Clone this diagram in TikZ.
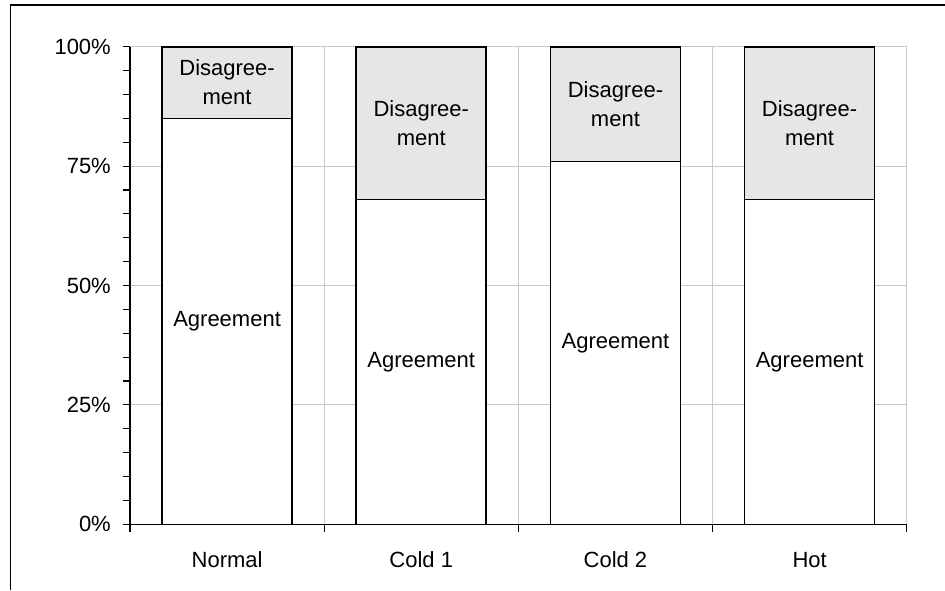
\documentclass[tikz,border=0pt]{standalone}
\usepackage{fontspec}
\setmainfont{Liberation Sans}
\definecolor{gridc}{HTML}{C8C8C8}
\definecolor{disfill}{HTML}{E6E6E6}
\begin{document}
\begin{tikzpicture}[x=1pt,y=-1pt,
  lbl/.style={font=\fontsize{22}{29}\selectfont, align=center, inner sep=0pt},
  barseg/.style={draw=black, line width=1.6pt},
  gridl/.style={draw=gridc, line width=1pt},
  axisl/.style={draw=black, line width=1.1pt}]
\useasboundingbox (0,0) rectangle (945,590);
\fill[white] (0,0) rectangle (945,590);
% outer frame
\draw[line width=1.1pt] (10.5,590) -- (10.5,5) -- (945,5);
% geometry
\def\yz{524.3}
\def\yu{4.776}
\def\yt{46.7}
% gridlines
\foreach \p in {25,50,75,100}
  \draw[gridl] (130,{\yz-\yu*\p}) -- (906.7,{\yz-\yu*\p});
\foreach \i in {1,2,3,4}
  \draw[gridl] ({130+194.175*\i},\yt) -- ({130+194.175*\i},\yz);
% bars
\foreach \i/\v/\nm in {0/85/normal,1/68/coldone,2/76/coldtwo,3/68/hot}{
  \pgfmathsetmacro{\cx}{130+194.175*(\i+0.5)}
  \pgfmathsetmacro{\xl}{\cx-65}
  \pgfmathsetmacro{\xr}{\cx+65}
  \pgfmathsetmacro{\ys}{\yz-\yu*\v}
  \fill[white] (\xl,\yz) rectangle (\xr,\ys);
  \fill[disfill] (\xl,\ys) rectangle (\xr,\yt);
  \draw[barseg] (\xl,\yz) rectangle (\xr,\ys);
  \draw[barseg] (\xl,\ys) rectangle (\xr,\yt);
  \node[lbl] (agr-\nm) at (\cx,{(\yz+\ys)/2}) {Agreement};
  \node[lbl] (dis-\nm) at (\cx,{(\ys+\yt)/2}) {Disagree-\\ment};
}
% axes
\draw[axisl] (130,\yz) -- (130,\yt);
\draw[axisl] (130,\yz) -- (906.7,\yz);
\foreach \k in {0,...,20}
  \draw[axisl] (123.3,{\yz-\yu*5*\k}) -- (130,{\yz-\yu*5*\k});
\foreach \i in {0,...,4}
  \draw[axisl] ({130+194.175*\i},\yz) -- ({130+194.175*\i},531.7);
% y labels
\foreach \p in {0,25,50,75,100}
  \node[lbl, anchor=east] (ylab\p) at (111,{\yz-\yu*\p}) {\p\%};
% x labels
\foreach \i/\t/\nm in {0/Normal/normal,1/Cold 1/coldone,2/Cold 2/coldtwo,3/Hot/hot}
  \node[lbl] (xlab-\nm) at ({130+194.175*(\i+0.5)},560) {\t};
\end{tikzpicture}
\end{document}
